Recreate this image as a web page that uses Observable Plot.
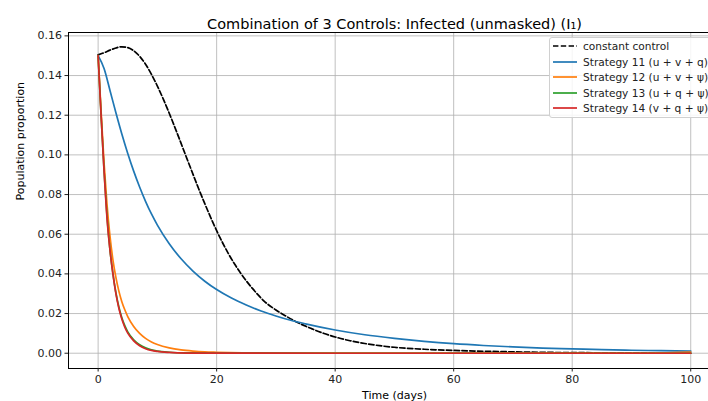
<!DOCTYPE html>
<html>
<head>
<meta charset="utf-8">
<script src="https://cdn.jsdelivr.net/npm/d3@7"></script>
<script src="https://cdn.jsdelivr.net/npm/@observablehq/plot@0.6"></script>
<style>
  html, body { margin: 0; padding: 0; background: #fff; }
  #wrap { position: relative; width: 708px; height: 401px; overflow: hidden; font-family: "DejaVu Sans", sans-serif; }
  #legend {
    position: absolute; left: 549px; top: 37px; width: 164px; height: 81px;
    border: 1px solid #d0d0d0; border-radius: 3px; background: rgba(255,255,255,0.85);
    box-sizing: border-box; font-size: 10.6px; color: #222;
  }
  .row { position: absolute; left: 3px; height: 14px; display: flex; align-items: center; white-space: nowrap; }
  .row svg { margin-right: 6px; }
</style>
</head>
<body>
<div id="wrap"><div id="legend"></div></div>
<script>
// Infected (unmasked) population I1 under combined controls
const seriesNames = [
  "constant control",
  "Strategy 11 (u + v + q)",
  "Strategy 12 (u + v + \u03c8)",
  "Strategy 13 (u + q + \u03c8)",
  "Strategy 14 (v + q + \u03c8)"
];
const seriesColors = ["#000000", "#1f77b4", "#ff7f0e", "#2ca02c", "#d62728"];

const tConstant = [0, 1, 2, 3, 4, 5, 6, 7, 8, 9, 10, 11, 12, 13, 14, 15, 16, 17, 18, 19, 20, 21, 22, 23, 24, 25, 26, 27, 28, 30, 32, 34, 36, 38, 40, 42.5, 45, 47.5, 50, 55, 60, 65, 70, 80, 90, 100];
const iConstant = [0.1504, 0.1515, 0.1528, 0.1539, 0.1545, 0.1541, 0.1525, 0.1497, 0.1457, 0.1406, 0.1347, 0.1281, 0.1210, 0.1135, 0.1058, 0.0980, 0.0903, 0.0827, 0.0754, 0.0684, 0.0618, 0.0557, 0.0501, 0.0451, 0.0406, 0.0365, 0.0328, 0.0294, 0.0263, 0.0218, 0.0182, 0.0150, 0.0124, 0.0101, 0.0082, 0.0063, 0.0049, 0.0038, 0.0030, 0.0020, 0.0014, 0.0010, 0.0007, 0.0003, 0.0002, 0.0001];

const tS11 = [0, 1, 2, 3, 4, 5, 6, 7, 8, 9, 10, 12, 14, 16, 18, 20, 22.5, 25, 27.5, 30, 32.5, 35, 40, 45, 50, 55, 60, 65, 70, 75, 80, 85, 90, 95, 100];
const iS11 = [0.150, 0.1435, 0.1325, 0.1212, 0.1105, 0.1007, 0.0918, 0.0838, 0.0766, 0.0702, 0.0646, 0.0552, 0.0476, 0.0414, 0.0363, 0.0321, 0.0278, 0.0243, 0.0213, 0.0188, 0.0166, 0.0148, 0.0117, 0.0093, 0.0075, 0.0060, 0.0048, 0.0039, 0.0032, 0.0026, 0.0022, 0.0018, 0.0015, 0.0013, 0.0011];

const tS12 = [0, 0.5, 1, 1.5, 2, 2.5, 3, 3.5, 4, 4.5, 5, 6, 7, 8, 9, 10, 12, 14, 16, 18, 20, 25, 30, 40, 60, 80, 90, 95, 100];
const iS12 = [0.150, 0.122, 0.096, 0.075, 0.059, 0.047, 0.0382, 0.0313, 0.026, 0.0219, 0.0185, 0.0135, 0.0100, 0.0075, 0.0057, 0.0044, 0.0027, 0.0017, 0.0011, 0.0007, 0.0005, 0.0002, 0.0001, 0.00005, 0.00005, 0.00006, 0.0001, 0.0002, 0.0006];

const tS13 = [0, 0.5, 1, 1.5, 2, 2.5, 3, 3.5, 4, 4.5, 5, 6, 7, 8, 9, 10, 12, 15, 20, 40, 60, 80, 100];
const iS13 = [0.150, 0.120, 0.092, 0.069, 0.052, 0.040, 0.0305, 0.0233, 0.0179, 0.0139, 0.0108, 0.0068, 0.0043, 0.0027, 0.0017, 0.0011, 0.0005, 0.00015, 0.00003, 0, 0, 0, 0];

const tS14 = [0, 0.5, 1, 1.5, 2, 2.5, 3, 3.5, 4, 4.5, 5, 6, 7, 8, 9, 10, 12, 15, 20, 40, 60, 80, 100];
const iS14 = [0.150, 0.120, 0.092, 0.068, 0.052, 0.040, 0.030, 0.0227, 0.0172, 0.0131, 0.0101, 0.0062, 0.0038, 0.0023, 0.0014, 0.0009, 0.0004, 0.0001, 0.00002, 0, 0, 0, 0];

const xTicks = [0, 20, 40, 60, 80, 100];
const yTicks = [0.00, 0.02, 0.04, 0.06, 0.08, 0.10, 0.12, 0.14, 0.16];

const titleText = "Combination of 3 Controls: Infected (unmasked) (I\u2081)";
const xLabel = "Time (days)";
const yLabel = "Population proportion";

const toRows = (ts, vs, name) => ts.map((t, i) => ({t, v: vs[i], name}));
const rowsConstant = toRows(tConstant, iConstant, seriesNames[0]);
const rows11 = toRows(tS11, iS11, seriesNames[1]);
const rows12 = toRows(tS12, iS12, seriesNames[2]);
const rows13 = toRows(tS13, iS13, seriesNames[3]);
const rows14 = toRows(tS14, iS14, seriesNames[4]);

const xDomain = [-5, 103];
const yDomain = [-0.0077, 0.1617];
const font = "DejaVu Sans, sans-serif";
const dash = "5.4,2.4";
const lw = 1.7;

const chart = Plot.plot({
  width: 708,
  height: 401,
  marginLeft: 68,
  marginRight: 0,
  marginTop: 32,
  marginBottom: 33,
  style: {fontFamily: font, fontSize: "11px", color: "#222", background: "#fff"},
  x: {domain: xDomain, label: null},
  y: {domain: yDomain, label: null},
  marks: [
    Plot.gridX(xTicks, {stroke: "#b0b0b0", strokeOpacity: 1, strokeWidth: 0.8}),
    Plot.gridY(yTicks, {stroke: "#b0b0b0", strokeOpacity: 1, strokeWidth: 0.8}),
    Plot.lineY(rowsConstant, {x: "t", y: "v", stroke: seriesColors[0], strokeWidth: lw, strokeDasharray: dash, curve: "monotone-x"}),
    Plot.lineY(rows11, {x: "t", y: "v", stroke: seriesColors[1], strokeWidth: lw, curve: "monotone-x"}),
    Plot.lineY(rows12, {x: "t", y: "v", stroke: seriesColors[2], strokeWidth: lw, curve: "monotone-x"}),
    Plot.lineY(rows13, {x: "t", y: "v", stroke: seriesColors[3], strokeWidth: lw, curve: "monotone-x"}),
    Plot.lineY(rows14, {x: "t", y: "v", stroke: seriesColors[4], strokeWidth: lw, curve: "monotone-x"}),
    Plot.ruleX([xDomain[0]], {stroke: "#000", strokeWidth: 1}),
    Plot.ruleY([yDomain[0], yDomain[1]], {stroke: "#000", strokeWidth: 1}),
    Plot.axisX({ticks: xTicks, tickSize: 3.5, tickPadding: 3, label: null, tickFormat: d => String(d), fontSize: 11}),
    Plot.axisY({ticks: yTicks, tickSize: 3.5, tickPadding: 3, label: null, tickFormat: d => d.toFixed(2), fontSize: 11}),
    Plot.text([titleText], {frameAnchor: "top", dx: 6, dy: -14, fontSize: 14.5, fontFamily: font, fill: "#000"}),
    Plot.text([xLabel], {frameAnchor: "bottom", dx: 6, dy: 30, fontSize: 11, fill: "#000"}),
    Plot.text([yLabel], {frameAnchor: "left", dx: -48, rotate: -90, fontSize: 11, fill: "#000"})
  ]
});
document.getElementById("wrap").insertBefore(chart, document.getElementById("legend"));
chart.style.position = "absolute";
chart.style.left = "0";
chart.style.top = "0";

// legend entries
const legend = d3.select("#legend");
seriesNames.forEach((name, i) => {
  const row = legend.append("div").attr("class", "row").style("top", (1 + i * 15.6) + "px");
  const s = row.append("svg").attr("width", 24).attr("height", 6);
  s.append("line").attr("x1", 0).attr("x2", 24).attr("y1", 3).attr("y2", 3)
    .attr("stroke", seriesColors[i]).attr("stroke-width", lw)
    .attr("stroke-dasharray", i === 0 ? dash : null);
  row.append("span").text(name);
});
</script>
</body>
</html>
